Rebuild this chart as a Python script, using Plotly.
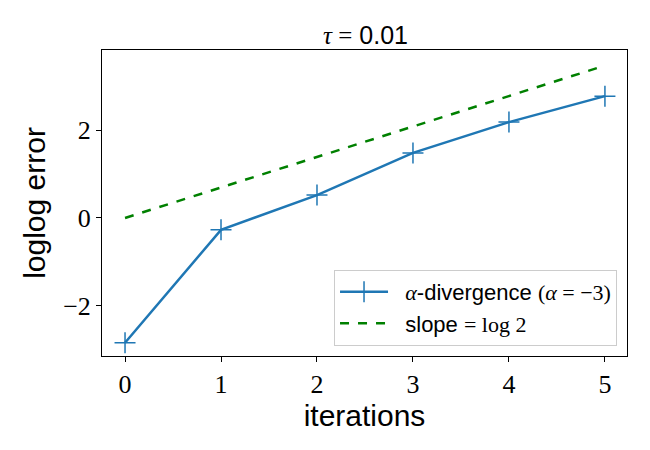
import plotly.graph_objects as go

iterations = [0, 1, 2, 3, 4, 5]
alpha_div = [-2.84, -0.27, 0.52, 1.48, 2.18, 2.77]
slope_ref = [0.0, 0.693, 1.386, 2.079, 2.773, 3.466]

serif = "Liberation Serif, DejaVu Serif, serif"
sans = "Liberation Sans, Arial, sans-serif"
pad = '\u00a0\u00a0'

fig = go.Figure()

fig.add_trace(go.Scatter(
    x=iterations, y=alpha_div,
    mode='lines+markers',
    line=dict(color='#1f77b4', width=2.5),
    marker=dict(symbol='cross-thin', size=15,
                line=dict(color='#1f77b4', width=1.5)),
    name=(pad + f'<span style="font-family:{serif}"><i>α</i></span>-divergence '
          f'<span style="font-family:{serif}">(<i>α</i> = −3)</span>')
))

fig.add_trace(go.Scatter(
    x=iterations, y=slope_ref,
    mode='lines',
    line=dict(color='green', width=2.5, dash='dash'),
    name=pad + f'slope <span style="font-family:{serif}">= log 2</span>'
))

fig.update_layout(
    width=650, height=450,
    margin=dict(l=94, r=31, t=42, b=102),
    paper_bgcolor='white', plot_bgcolor='white',
    title=dict(
        text=f'<span style="font-family:{serif}"><i>τ</i> =</span> 0.01',
        x=0.55, xanchor='center', y=0.94, yanchor='middle',
        font=dict(family=sans, size=25, color='black')
    ),
    xaxis=dict(
        range=[-0.24, 5.23],
        tickvals=iterations,
        ticks='outside', ticklen=5, tickcolor='black',
        showline=True, linecolor='black', linewidth=1, mirror=True,
        showgrid=False, zeroline=False,
        tickfont=dict(family=serif, size=26, color='black'),
        title=dict(text='iterations', font=dict(family=sans, size=30, color='black'),
                   standoff=6)
    ),
    yaxis=dict(
        range=[-3.14, 3.82],
        tickvals=[-2, 0, 2],
        ticktext=['−2', '0', '2'],
        ticks='outside', ticklen=5, tickcolor='black',
        showline=True, linecolor='black', linewidth=1, mirror=True,
        showgrid=False, zeroline=False,
        tickfont=dict(family=serif, size=26, color='black'),
        title=dict(text='loglog error', font=dict(family=sans, size=30, color='black'),
                   standoff=8)
    ),
    legend=dict(
        x=0.981, y=0.033, xanchor='right', yanchor='bottom',
        bgcolor='rgba(255,255,255,0.8)', bordercolor='#cccccc', borderwidth=1,
        font=dict(family=sans, size=22, color='black'),
        tracegroupgap=4, itemwidth=48
    )
)

fig.write_html("out.html")
